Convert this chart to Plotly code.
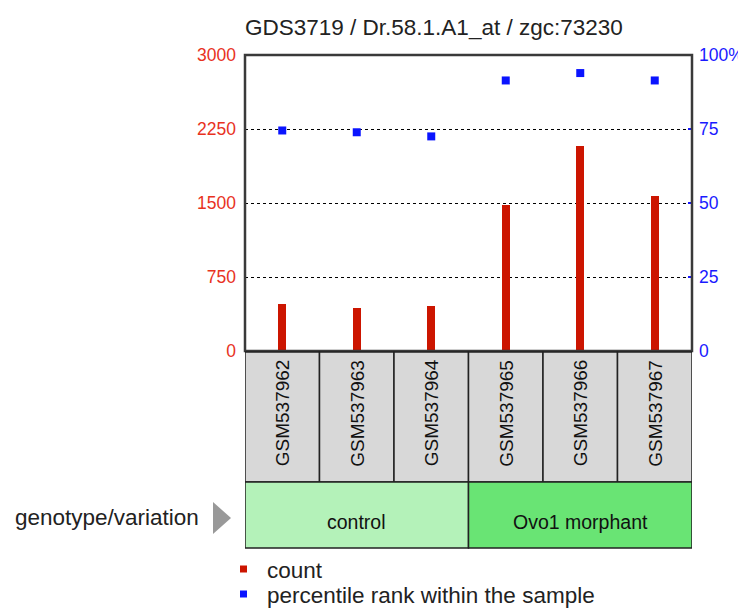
import plotly.graph_objects as go

samples = ["GSM537962", "GSM537963", "GSM537964", "GSM537965", "GSM537966", "GSM537967"]
counts = [473, 439, 456, 1480, 2078, 1571]
percentiles = [74.5, 73.9, 72.5, 91.4, 93.9, 91.4]
groups = ["control", "Ovo1 morphant"]
group_sizes = [3, 3]
group_colors = ["#b4f2b9", "#69e474"]
left_ticks = [0, 750, 1500, 2250, 3000]
right_ticks = [0, 25, 50, 75, 100]
right_labels = ["0", "25", "50", "75", "100%"]
title = "GDS3719 / Dr.58.1.A1_at / zgc:73230"

# page body has an 8px margin; the figure is sized so the plot sits where the reference has it
OFF = 8
W, H = 746, 608
L, R, T, B = 245, 692, 55, 351
pw, ph = R - L, B - T

def px(xp):
    return (xp - L) / pw

def py(yp):
    return (B - yp) / ph

FONT = "Liberation Sans, Arial, sans-serif"
xs = list(range(len(samples)))

fig = go.Figure()
fig.add_trace(go.Bar(x=xs, y=counts, width=0.11, marker=dict(color="#cc1500", line=dict(width=0)),
                     name="count", yaxis="y"))
fig.add_trace(go.Scatter(x=xs, y=percentiles, mode="markers", yaxis="y2",
                         marker=dict(symbol="square", size=8, color="#0a14ff"),
                         name="percentile rank within the sample"))

shapes = []
annotations = []

# plot frame
shapes.append(dict(type="rect", xref="paper", yref="paper", x0=0, x1=1, y0=0, y1=1,
                   line=dict(color="#3a3a3a", width=2.5), fillcolor="rgba(0,0,0,0)", layer="above"))

# sample label cells
for i, s in enumerate(samples):
    shapes.append(dict(type="rect", xref="x", yref="paper", x0=i - 0.5, x1=i + 0.5,
                       y0=py(482), y1=py(352), fillcolor="#d8d8d8",
                       line=dict(color="#222222", width=1.5)))
    annotations.append(dict(x=i, y=py(413), xref="x", yref="paper", text=s, textangle=-90,
                            xanchor="center", yanchor="middle",
                            showarrow=False, font=dict(family=FONT, size=19, color="#111111")))

# group cells
start = 0
for g, n, c in zip(groups, group_sizes, group_colors):
    shapes.append(dict(type="rect", xref="x", yref="paper", x0=start - 0.5, x1=start + n - 0.5,
                       y0=py(548), y1=py(482), fillcolor=c, line=dict(color="#222222", width=1.5)))
    annotations.append(dict(x=start + (n - 1) / 2, y=py(522), xref="x", yref="paper", text=g,
                            xanchor="center", yanchor="middle",
                            showarrow=False, font=dict(family=FONT, size=19.5, color="#111111")))
    start += n

# genotype/variation label and arrow
annotations.append(dict(x=px(201), y=py(518), xref="paper", yref="paper", text="genotype/variation",
                        xanchor="right", yanchor="middle", showarrow=False,
                        font=dict(family=FONT, size=22.5, color="#222222")))
shapes.append(dict(type="path", xref="paper", yref="paper",
                   path=f"M {px(213)} {py(502)} L {px(231)} {py(518)} L {px(213)} {py(534)} Z",
                   fillcolor="#999999", line=dict(width=0)))

# legend
for yy, col, txt in [(569, "#cc1500", "count"), (594, "#0a14ff", "percentile rank within the sample")]:
    shapes.append(dict(type="rect", xref="paper", yref="paper", x0=px(240), x1=px(247),
                       y0=py(yy + 3.5), y1=py(yy - 3.5), fillcolor=col, line=dict(width=0)))
    annotations.append(dict(x=px(265), y=py(yy + 1), xref="paper", yref="paper", text=txt,
                            xanchor="left", yanchor="middle",
                            showarrow=False, font=dict(family=FONT, size=22.5, color="#222222")))

# title
annotations.append(dict(x=px(434), y=py(27), xref="paper", yref="paper", text=title, showarrow=False,
                        xanchor="center", yanchor="middle",
                        font=dict(family=FONT, size=22.5, color="#222222")))

fig.update_layout(
    width=W - OFF, height=H - OFF,
    margin=dict(l=L - OFF, r=W - R, t=T - OFF, b=H - B, pad=0, autoexpand=False),
    plot_bgcolor="white", paper_bgcolor="white",
    showlegend=False,
    bargap=0,
    xaxis=dict(range=[-0.5, len(samples) - 0.5], showticklabels=False, showgrid=False,
               zeroline=False, ticks="", fixedrange=True, automargin=False),
    yaxis=dict(range=[0, 3000], tickvals=left_ticks, ticktext=[str(t) for t in left_ticks],
               tickfont=dict(family=FONT, size=17.5, color="#e8321e"), showgrid=True,
               gridcolor="#000000", griddash="dot", gridwidth=1, zeroline=False, ticks="",
               ticklabelstandoff=8, automargin=False),
    yaxis2=dict(range=[0, 100], overlaying="y", side="right", tickvals=right_ticks,
                ticktext=right_labels, tickfont=dict(family=FONT, size=17.5, color="#1a1aff"),
                showgrid=False, zeroline=False, ticks="inside", ticklen=4, tickwidth=1.5,
                tickcolor="#1a1aff", ticklabelstandoff=6, automargin=False),
    shapes=shapes,
    annotations=annotations,
)

fig.write_html("out.html")
